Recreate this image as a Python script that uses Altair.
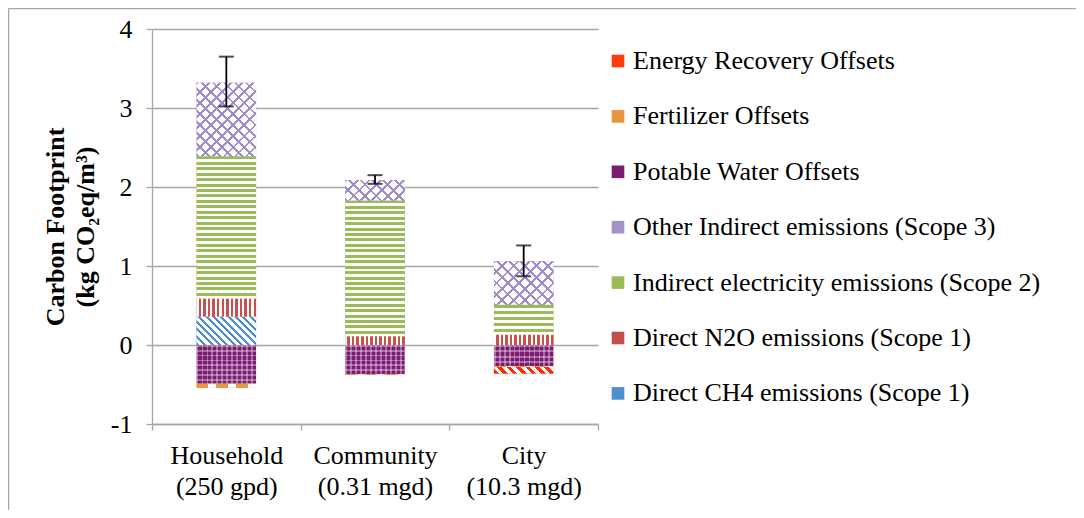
import json
import math
import altair as alt
import pandas as pd

# ---------------- data ----------------
categories = ["Household", "Community", "City"]
category_lines = [["Household", "(250 gpd)"], ["Community", "(0.31 mgd)"], ["City", "(10.3 mgd)"]]

series = [
    "Direct CH4 emissions (Scope 1)",
    "Direct N2O emissions (Scope 1)",
    "Indirect electricity emissions (Scope 2)",
    "Other Indirect emissions (Scope 3)",
    "Potable Water Offsets",
    "Fertilizer Offsets",
    "Energy Recovery Offsets",
]

ch4 = [0.36, 0.0, 0.0]
n2o = [0.23, 0.11, 0.13]
elec = [1.80, 1.72, 0.38]
other = [0.93, 0.26, 0.55]
potable = [-0.49, -0.37, -0.27]
fert = [-0.05, -0.01, -0.01]
energy = [0.0, 0.0, -0.08]

err_low = [3.02, 2.04, 0.87]
err_high = [3.65, 2.15, 1.26]

y_ticks = [-1, 0, 1, 2, 3, 4]
y_title = ["Carbon Footprint", "(kg CO\u2082eq/m\u00b3)"]

legend_order = list(reversed(series))
legend_colors = ["#FF3B0F", "#E8963F", "#7B1C72", "#A391C8", "#9BBB59", "#C0504D", "#4F8FD0"]

# ---------------- layout / style ----------------
W, H = 446, 395
PX_PER_UNIT = H / 5.0
BAR_W = W / 3 * 0.4
FONT = "Liberation Serif"
GREY = "#A6A6A6"

# ---------------- stacked table ----------------
all_vals = [ch4, n2o, elec, other, potable, fert, energy]
rows = []
for i, c in enumerate(categories):
    pos, neg = 0.0, 0.0
    for s, vals in zip(series, all_vals):
        v = vals[i]
        if v == 0:
            continue
        if v > 0:
            y0, pos = pos, pos + v
            y1 = pos
        else:
            y0, neg = neg, neg + v
            y1 = neg
        rows.append(dict(cat=c, series=s, value=v, y0=y0, y1=y1))
df = pd.DataFrame(rows)

err = pd.DataFrame({"cat": categories, "lo": err_low, "hi": err_high})


# ---------------- pattern helpers (gradients used as fill textures) ----------------
def stripes(c1, c2, n, frac, x1, y1, x2, y2):
    stops = []
    for k in range(n):
        a, b, e = k / n, (k + frac) / n, (k + 1) / n
        stops += [(a, c1), (b, c1), (b, c2), (e, c2)]
    return alt.LinearGradient(
        gradient="linear",
        stops=[alt.GradientStop(offset=round(o, 5), color=col) for o, col in stops],
        x1=x1, y1=y1, x2=x2, y2=y2,
    )


def diag(c1, c2, period, frac, w, h, back=True):
    r = h / w
    s = (1 + r) / (1 + r * r)
    n = max(1, round((w + h) / math.sqrt(2) / period))
    if back:
        return stripes(c1, c2, n, frac, 0, 1, s, 1 - s * r)
    return stripes(c1, c2, n, frac, 0, 0, s, s * r)


def hstripes(c1, c2, period, frac, h):
    n = max(1, round(h / period))
    return stripes(c1, c2, n, frac, 0, 0, 0, 1)


def vstripes(c1, c2, n, frac):
    return stripes(c1, c2, n, frac, 0, 0, 1, 0)


CLEAR = "rgba(255,255,255,0)"


def patterns_for(s, h):
    w = BAR_W
    if s == series[0]:
        return [diag("#4F8FD0", "#FFFFFF", 5, 0.4, w, h, True)]
    if s == series[1]:
        return [vstripes("#FFFFFF", "#C9504D", 13, 0.45)]
    if s == series[2]:
        return [hstripes("#9BBB59", "#FFFFFF", 5.5, 0.55, h)]
    if s == series[3]:
        return [diag("#A08CCB", "#FFFFFF", 8, 0.24, w, h, True),
                diag("#A08CCB", CLEAR, 8, 0.24, w, h, False)]
    if s == series[4]:
        return [vstripes("rgba(255,255,255,0.35)", CLEAR, 12, 0.35),
                hstripes("rgba(255,255,255,0.35)", CLEAR, 5, 0.35, h)]
    if s == series[5]:
        return [vstripes("#E8963F", "#FFFFFF", 3, 0.6)]
    if s == series[6]:
        return [diag("#FF2A00", "#FFFFFF", 7, 0.5, w, h, True)]
    return []


# ---------------- encodings ----------------
label_expr = ""
for c, lines in zip(categories, category_lines):
    label_expr += f"datum.value == {json.dumps(c)} ? {json.dumps(lines)} : "
label_expr += "datum.value"

x_enc = alt.X(
    "cat:N",
    sort=categories,
    scale=alt.Scale(domain=categories, paddingInner=0, paddingOuter=0),
    axis=alt.Axis(
        title=None, labelExpr=label_expr, labelAngle=0, tickBand="extent",
        labelFont=FONT, labelFontSize=26, labelColor="black", labelPadding=12,
        labelLineHeight=31, tickSize=6, tickColor=GREY, domainColor=GREY,
        domainWidth=1.3, tickWidth=1.3, grid=False,
    ),
)

y_axis = alt.Axis(
    values=y_ticks, title=y_title, grid=True, gridColor=GREY, gridWidth=1.3,
    domainColor=GREY, domainWidth=1.3, tickColor=GREY, tickWidth=1.3, tickSize=6,
    labelFont=FONT, labelFontSize=26, labelColor="black", labelPadding=14,
    labelExpr="datum.value < 0 ? '-' + abs(datum.value) : '' + datum.value",
    titleFont=FONT, titleFontSize=26, titleFontWeight="bold", titleColor="black",
    titlePadding=12, titleLineHeight=30,
)
y_scale = alt.Scale(domain=[-1, 4], nice=False, zero=False)

base = alt.Chart(df).mark_bar(width=alt.RelativeBandSize(0.4)).encode(
    x=x_enc,
    y=alt.Y("y0:Q", scale=y_scale, axis=y_axis),
    y2="y1:Q",
    color=alt.Color(
        "series:N",
        scale=alt.Scale(domain=legend_order, range=legend_colors),
        legend=alt.Legend(title=None, orient="none", legendX=453, legendY=19),
    ),
)

layers = [base]
for r in rows:
    h = abs(r["value"]) * PX_PER_UNIT
    for g in patterns_for(r["series"], h):
        lay = (
            alt.Chart(df)
            .transform_filter((alt.datum.cat == r["cat"]) & (alt.datum.series == r["series"]))
            .mark_bar(width=alt.RelativeBandSize(0.4), fill=g)
            .encode(x=x_enc, y=alt.Y("y0:Q", scale=y_scale, axis=y_axis), y2="y1:Q")
        )
        layers.append(lay)

rule = alt.Chart(err).mark_rule(color="black", strokeWidth=1.8).encode(
    x=x_enc, y=alt.Y("lo:Q", scale=y_scale, axis=y_axis), y2="hi:Q"
)
cap_lo = alt.Chart(err).mark_tick(color="black", thickness=2, size=15).encode(
    x=x_enc, y=alt.Y("lo:Q", scale=y_scale, axis=y_axis)
)
cap_hi = alt.Chart(err).mark_tick(color="black", thickness=2, size=15).encode(
    x=x_enc, y=alt.Y("hi:Q", scale=y_scale, axis=y_axis)
)
layers += [rule, cap_lo, cap_hi]

frame_src = pd.DataFrame({"k": [0]})
frame_left = alt.Chart(frame_src).mark_rule(color=GREY, strokeWidth=1.5).encode(
    x=alt.value(-143.5), y=alt.value(-20.5), y2=alt.value(481)
)
frame_top = alt.Chart(frame_src).mark_rule(color=GREY, strokeWidth=1.5).encode(
    x=alt.value(-143.5), x2=alt.value(924), y=alt.value(-20.5)
)
layers += [frame_left, frame_top]

chart = (
    alt.layer(*layers)
    .properties(
        width=W, height=H,
        padding={"left": 144, "top": 21, "right": 478, "bottom": 86},
        autosize=alt.AutoSizeParams(type="none"),
        background="white",
    )
    .configure_view(strokeWidth=0)
    .configure_legend(
        symbolType="square", symbolSize=160, symbolStrokeWidth=0,
        labelFont=FONT, labelFontSize=26, labelColor="black", labelLimit=700,
        labelOffset=2, rowPadding=29.4, padding=0,
    )
)

chart.save("out.html", embed_options={"renderer": "svg", "actions": False})
